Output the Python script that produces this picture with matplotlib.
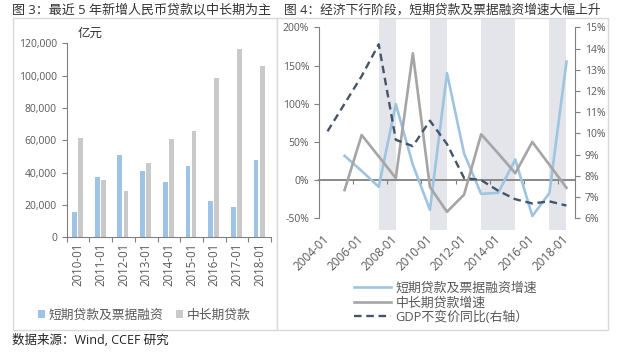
"""Fig 3 / Fig 4: new RMB loans by maturity, and loan growth vs GDP growth."""

import numpy as np
import matplotlib
matplotlib.use('Agg')
import matplotlib.pyplot as plt
from matplotlib.patches import Rectangle

plt.rcParams['font.family'] = ['Open Sans', 'Noto Sans CJK SC']

# figure 3 data (亿元)
loan_years = ['2010-01', '2011-01', '2012-01', '2013-01', '2014-01',
              '2015-01', '2016-01', '2017-01', '2018-01']
short_loans = [15600, 37400, 51000, 40800, 34000, 43900, 22700, 18800, 47800]
long_loans = [61700, 35600, 28800, 46000, 60600, 66000, 98600, 116700, 105800]

# figure 4 data (%)
growth_years = [2004, 2005, 2006, 2007, 2008, 2009, 2010, 2011,
                2012, 2013, 2014, 2015, 2016, 2017, 2018]
short_growth = [np.nan, 31.8, 12, -8.8, 99.5, 20, -39, 140,
                35, -18, -16.6, 27, -47, -17, 155]
long_growth = [np.nan, -13, 59, 31, 2.6, 166, -9, -41.5,
               -19, 60, 35, 9, 50, 20, -10]
gdp_growth = [10.1, 11.4, 12.7, 14.2, 9.7, 9.4, 10.6, 9.5,
              7.9, 7.8, 7.3, 6.9, 6.7, 6.8, 6.6]
downturns = [(2007, 2008), (2010, 2011), (2013, 2015), (2017, 2018)]

W, H = 621, 353
AXIS = '#808080'
TXT = '#595959'
BLUE_BAR = '#9DC3E6'
GRAY_BAR = '#C9C9C9'


def fig_rect(x0, y0, x1, y1):
    """Pixel box (top-left origin) -> figure fraction rect."""
    return [x0 / W, 1 - y1 / H, (x1 - x0) / W, (y1 - y0) / H]


fig = plt.figure(figsize=(W / 100, H / 100), dpi=100)

# panel frames
for x0, x1 in [(12.5, 277), (277, 608)]:
    fig.patches.append(Rectangle((x0 / W, 1 - 330 / H), (x1 - x0) / W, 312 / H,
                                 transform=fig.transFigure, facecolor='white',
                                 edgecolor='#D9D9D9', lw=1, zorder=-5))

fig.text(12 / W, 1 - 10 / H, '图 3：最近 5 年新增人民币贷款以中长期为主',
         fontsize=9.4, color='#333333', va='center')
fig.text(284 / W, 1 - 10 / H, '图 4：经济下行阶段，短期贷款及票据融资增速大幅上升',
         fontsize=9.2, color='#333333', va='center')
fig.text(12 / W, 1 - 340 / H, '数据来源：Wind, CCEF 研究',
         fontsize=9, color='#222222', va='center')

# ---- figure 3: bars ----
ax = fig.add_axes(fig_rect(66.7, 43.3, 271, 237.3))
x = np.arange(len(loan_years))
b1 = ax.bar(x - 0.16, short_loans, 0.21, color=BLUE_BAR, label='短期贷款及票据融资')
b2 = ax.bar(x + 0.11, long_loans, 0.21, color=GRAY_BAR, label='中长期贷款')
ax.set_xlim(-0.5, len(loan_years) - 0.5)
ax.set_ylim(0, 120000)
ax.set_yticks(range(0, 120001, 20000))
ax.yaxis.set_major_formatter(lambda v, p: f'{v:,.0f}')
ax.set_xticks(np.arange(-0.5, len(loan_years), 1))
ax.set_xticklabels([])
ax.set_xticks(x, loan_years, minor=True, rotation=90)
ax.tick_params(axis='x', which='minor', length=0, pad=4, labelsize=8.3)
ax.tick_params(axis='y', labelsize=7.5)
ax.tick_params(which='both', labelcolor=TXT, color=AXIS)
ax.tick_params(which='major', length=3.5)
for s in ['top', 'right']:
    ax.spines[s].set_visible(False)
for s in ['left', 'bottom']:
    ax.spines[s].set_color(AXIS)
ax.patch.set_alpha(0)
ax.text(0.055, 1.05, '亿元', transform=ax.transAxes, fontsize=9, color='#333333',
        va='center')
fig.legend(handles=[b1, b2], loc='center left', bbox_to_anchor=(38 / W, 1 - 315 / H),
           ncol=2, frameon=False, fontsize=9.2, labelcolor=TXT, handlelength=0.55,
           handleheight=0.55, handletextpad=0.3, columnspacing=1.0,
           borderpad=0, borderaxespad=0)

# ---- figure 4: lines ----
ax = fig.add_axes(fig_rect(319, 19, 575, 230))
ax.patch.set_alpha(0)
pos = np.arange(len(growth_years)) + 0.5
for start, end in downturns:
    ax.axvspan(pos[growth_years.index(start)], pos[growth_years.index(end)],
               color='#E3E5EA', lw=0, zorder=0)
l1, = ax.plot(pos, short_growth, color='#9EC4E0', lw=1.9, label='短期贷款及票据融资增速')
l2, = ax.plot(pos, long_growth, color='#A5A5A5', lw=1.9, label='中长期贷款增速')
ax.set_xlim(0, len(growth_years))
ax.set_ylim(-65.3, 210.9)
ax.set_yticks(range(-50, 201, 50))
ax.yaxis.set_major_formatter(lambda v, p: f'{v:.0f}%')
ax.set_xticks(np.arange(0, len(growth_years), 2))
ax.set_xticklabels([])
ax.tick_params(axis='x', length=3, color=AXIS)
ax.tick_params(axis='y', length=3.5, color=AXIS, labelsize=7.5, labelcolor=TXT)
ax.spines['left'].set_bounds(-50, 200)
ax.spines['bottom'].set_position(('data', 0))
ax.spines['bottom'].set_zorder(1.5)
ax.spines['bottom'].set_linewidth(1.3)
for s in ['left', 'bottom']:
    ax.spines[s].set_color(AXIS)
for s in ['top', 'right']:
    ax.spines[s].set_visible(False)

sec = ax.secondary_xaxis('bottom')
sec.set_xticks(pos[::2], [f'{y}-01' for y in growth_years[::2]])
sec.tick_params(length=0, pad=5, labelsize=8.5, labelcolor=TXT)
for lab in sec.get_xticklabels():
    lab.set_rotation(45)
    lab.set_ha('right')
    lab.set_va('center')
    lab.set_rotation_mode('anchor')
sec.spines['bottom'].set_visible(False)

ax2 = ax.twinx()
l3, = ax2.plot(pos, gdp_growth, color='#44546A', lw=1.7, ls=(0, (3.2, 2.0)),
               label='GDP不变价同比(右轴）')
ax2.set_ylim(5.449, 15.392)
ax2.set_yticks(range(6, 16))
ax2.yaxis.set_major_formatter(lambda v, p: f'{v:.0f}%')
ax2.tick_params(axis='y', length=3.5, color=AXIS, labelsize=7.5, labelcolor=TXT)
ax2.spines['right'].set_bounds(6, 15)
ax2.spines['right'].set_color(AXIS)
for s in ['left', 'top', 'bottom']:
    ax2.spines[s].set_visible(False)

fig.legend(handles=[l1, l2, l3], loc='upper left', bbox_to_anchor=(354 / W, 1 - 282 / H),
           frameon=False, fontsize=9.3, labelcolor=TXT, handlelength=2.9,
           handletextpad=0.3, labelspacing=0.1, borderpad=0, borderaxespad=0)

fig.savefig('out.png', dpi=100)
